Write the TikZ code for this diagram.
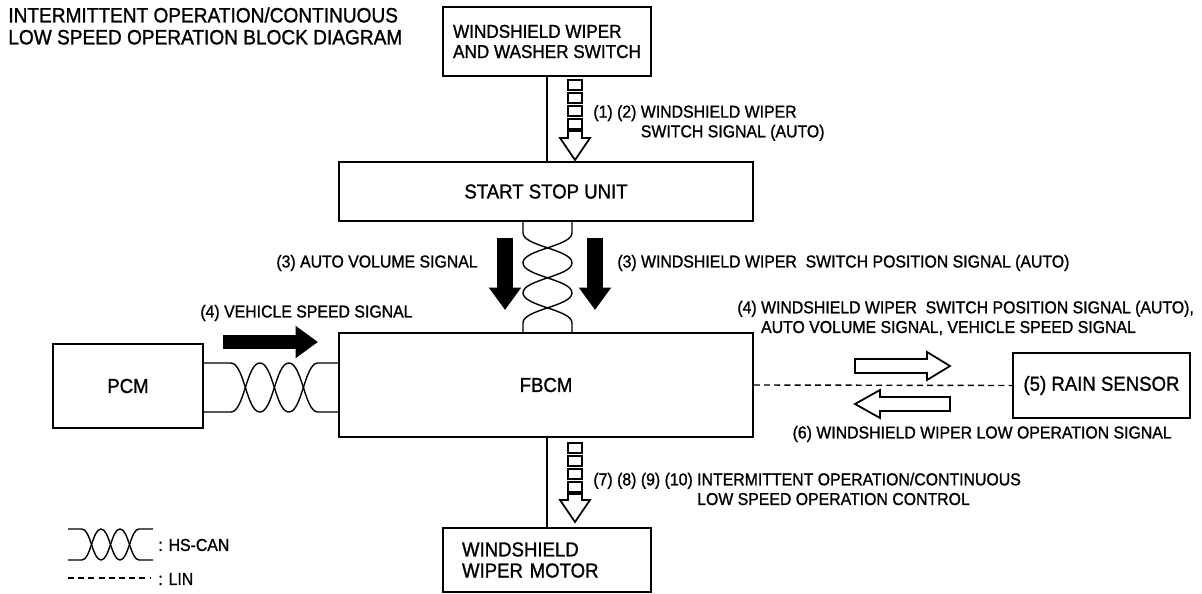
\documentclass[tikz,border=0pt]{standalone}
\usepackage{fontspec}
\setmainfont{Liberation Sans}[FakeStretch=0.92, FakeBold=1.2]
\usetikzlibrary{arrows.meta, positioning, calc}

\tikzset{
  box/.style={draw, line width=1pt, font=\fontsize{11.5}{13}\selectfont, inner sep=0pt},
  lbl/.style={font=\fontsize{9.8}{11.2}\selectfont, inner sep=0pt, align=left},
  wire/.style={line width=0.8pt},
  twisted/.style={line width=0.8pt, looseness=0.6},
  lin/.style={line width=0.8pt, dash pattern=on 3.4pt off 2.4pt},
  solidarrow/.style={line width=0.32cm, -{Triangle[width=0.62cm,length=0.45cm]}},
  hollow/.style={draw, line width=1pt, fill=white},
  seg/.style={draw, line width=1pt, fill=white},
}

\begin{document}
\begin{tikzpicture}[x=0.02cm, y=-0.02cm]
  \useasboundingbox (0,0) rectangle (1202,594);

  % Title
  \node[lbl, font=\fontsize{11.8}{12.5}\selectfont, anchor=west] (title) at (8,26)
    {INTERMITTENT OPERATION/CONTINUOUS\\LOW SPEED OPERATION BLOCK DIAGRAM};

  % Units
  \node[box, minimum width=4.16cm, minimum height=1.38cm, align=left,
        font=\fontsize{10.6}{11.5}\selectfont] (switch) at (547,41.5)
    {WINDSHIELD WIPER\\AND WASHER SWITCH};
  \node[box, minimum width=8.28cm, minimum height=1.18cm] (ssu) at (546,191.5) {START STOP UNIT};
  \node[box, minimum width=8.28cm, minimum height=2.08cm] (fbcm) at (546,385) {FBCM};
  \node[box, minimum width=3cm, minimum height=1.68cm] (pcm) at (128,386) {PCM};
  \node[box, minimum width=3.54cm, minimum height=1.3cm] (rain) at (1101.5,385.5) {(5) RAIN SENSOR};
  \node[box, minimum width=4.16cm, minimum height=1.28cm, text width=3.4cm, align=left,
        inner xsep=0.38cm, font=\fontsize{11.5}{12}\selectfont] (motor) at (547,560)
    {WINDSHIELD\\WIPER MOTOR};

  % Plain wires and LIN
  \draw[wire] (switch.south) -- (switch.south |- ssu.north);
  \draw[wire] (fbcm.south -| motor.north) -- (motor.north);
  \draw[lin] (fbcm.east) -- (rain.west);

  % HS-CAN between start stop unit and FBCM
  \foreach \dx/\a/\b in {-23/49/-49, 26/-49/49}
    \draw[twisted] ($(ssu.south)+(\dx,0)$) -- ++(0,11)
      to[out=-90,in=90] ++(\a,30) to[out=-90,in=90] ++(\b,30)
      to[out=-90,in=90] ++(\a,30) -- ++(0,11);

  % HS-CAN between PCM and FBCM
  \foreach \dy/\a/\b in {-23/49/-49, 26/-49/49}
    \draw[twisted] ($(pcm.east)+(0,\dy)$) -- ++(27,0)
      to[out=0,in=180] ++(29,\a) to[out=0,in=180] ++(29,\b)
      to[out=0,in=180] ++(29,\a) -- ++(22,0);

  % Switch signal (segmented arrows)
  \foreach \y in {80,93,106,119}
    \draw[seg] (568,\y) rectangle (582,\y+10);
  \draw[seg] (568,131) -- (582,131) -- (582,138) -- (590,138) -- (575,160)
    -- (560,138) -- (568,138) -- cycle;
  \foreach \y in {443,456,469,482}
    \draw[seg] (568,\y) rectangle (582,\y+10);
  \draw[seg] (568,494) -- (582,494) -- (582,500) -- (590,500) -- (575,522)
    -- (560,500) -- (568,500) -- cycle;

  % CAN signals
  \draw[solidarrow] (505,238) -- (505,310);
  \draw[solidarrow] (595,238) -- (595,310);
  \draw[solidarrow, line width=0.28cm] (223,342) -- (318,342);

  % LIN signals
  \draw[hollow] (855,359) -- (927,359) -- (927,352) -- (950,366) -- (927,380)
    -- (927,373) -- (855,373) -- cycle;
  \draw[hollow] (950,397) -- (880,397) -- (880,390) -- (855,404) -- (880,418)
    -- (880,411) -- (950,411) -- cycle;

  % Signal labels
  \node[lbl, anchor=west] (l12) at (593,123)
    {(1) (2) WINDSHIELD WIPER\\\hphantom{(1) (2) }SWITCH SIGNAL (AUTO)};
  \node[lbl, anchor=east] (l3a) at (478,263) {(3) AUTO VOLUME SIGNAL};
  \node[lbl, anchor=west] (l3b) at (617,263) {(3) WINDSHIELD WIPER\ \ SWITCH POSITION SIGNAL (AUTO)};
  \node[lbl, anchor=west] (l4a) at (200,313) {(4) VEHICLE SPEED SIGNAL};
  \node[lbl, anchor=west] (l4b) at (737,318)
    {(4) WINDSHIELD WIPER\ \ SWITCH POSITION SIGNAL (AUTO),\\\hphantom{(4) }AUTO VOLUME SIGNAL, VEHICLE SPEED SIGNAL};
  \node[lbl, anchor=east] (l6) at (1172,434) {(6) WINDSHIELD WIPER LOW OPERATION SIGNAL};
  \node[lbl, anchor=west] (l7) at (593,489)
    {(7) (8) (9) (10) INTERMITTENT OPERATION/CONTINUOUS\\\hphantom{(7) (8) (9) (10) }LOW SPEED OPERATION CONTROL};

  % Legend
  \coordinate (leg) at (68,529);
  \foreach \dy/\a/\b in {0/31/-31, 31/-31/31}
    \draw[twisted] ($(leg)+(0,\dy)$) -- ++(14,0)
      to[out=0,in=180] ++(19,\a) to[out=0,in=180] ++(19,\b)
      to[out=0,in=180] ++(19,\a) -- ++(14,0);
  \node[lbl, anchor=west] (lcan) at (158,545) {: HS-CAN};
  \coordinate (lina) at (68,578);
  \coordinate (linb) at (150,578);
  \draw[lin] (lina) -- (linb);
  \node[lbl, anchor=west] (llin) at (158,579) {: LIN};
\end{tikzpicture}
\end{document}
